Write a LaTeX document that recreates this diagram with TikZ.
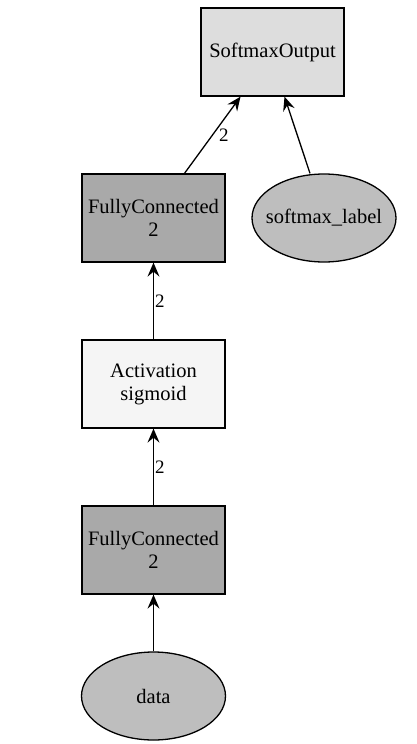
\documentclass[tikz,border=0pt]{standalone}
\usepackage{fontspec}
\setmainfont{Liberation Serif}
\usetikzlibrary{arrows.meta,shapes.geometric}
\definecolor{opgray}{HTML}{DDDDDD}
\definecolor{fcgray}{HTML}{A9A9A9}
\definecolor{actgray}{HTML}{F5F5F5}
\definecolor{vargray}{HTML}{BEBEBE}
\newcommand{\vartext}[1]{\makebox[0pt]{#1}}
\tikzset{
  opbox/.style={draw, rectangle, minimum width=143pt, minimum height=88pt, align=center, font=\fontsize{20.5}{23}\selectfont},
  varnode/.style={draw, ellipse, fill=vargray, inner sep=0pt, minimum width=144pt, minimum height=88pt, font=\fontsize{20.5}{23}\selectfont},
  flow/.style={-{Stealth[length=14pt,width=12pt,inset=5pt]}, line width=1.3pt},
  shape lbl/.style={font=\fontsize{19}{21}\selectfont, right}
}
\begin{document}
\begin{tikzpicture}[x=1pt, y=-1pt, line width=1.3pt]
  \useasboundingbox (0,0) rectangle (416,744);
  \node[opbox, fill=opgray] (out) at (272.5,52) {SoftmaxOutput};
  \node[opbox, fill=fcgray] (fc2) at (153.5,218) {FullyConnected\\2};
  \node[varnode] (label) at (324,218) {\vartext{softmax\_label}};
  \node[opbox, fill=actgray] (act) at (153.5,384) {Activation\\sigmoid};
  \node[opbox, fill=fcgray] (fc1) at (153.5,550) {FullyConnected\\2};
  \node[varnode] (data) at (153.5,696) {\vartext{data}};
  \draw[flow] (data) -- (fc1);
  \draw[flow] (fc1) -- node[shape lbl, inner sep=1pt] {2} (act);
  \draw[flow] (act) -- node[shape lbl, inner sep=1pt] {2} (fc2);
  \draw[flow] ([xshift=31pt]fc2.north) -- node[shape lbl, pos=0.5, inner sep=6pt] {2} ([xshift=-32pt]out.south);
  \draw[flow] ([xshift=-14pt]label.north) -- ([xshift=12pt]out.south);
\end{tikzpicture}
\end{document}
